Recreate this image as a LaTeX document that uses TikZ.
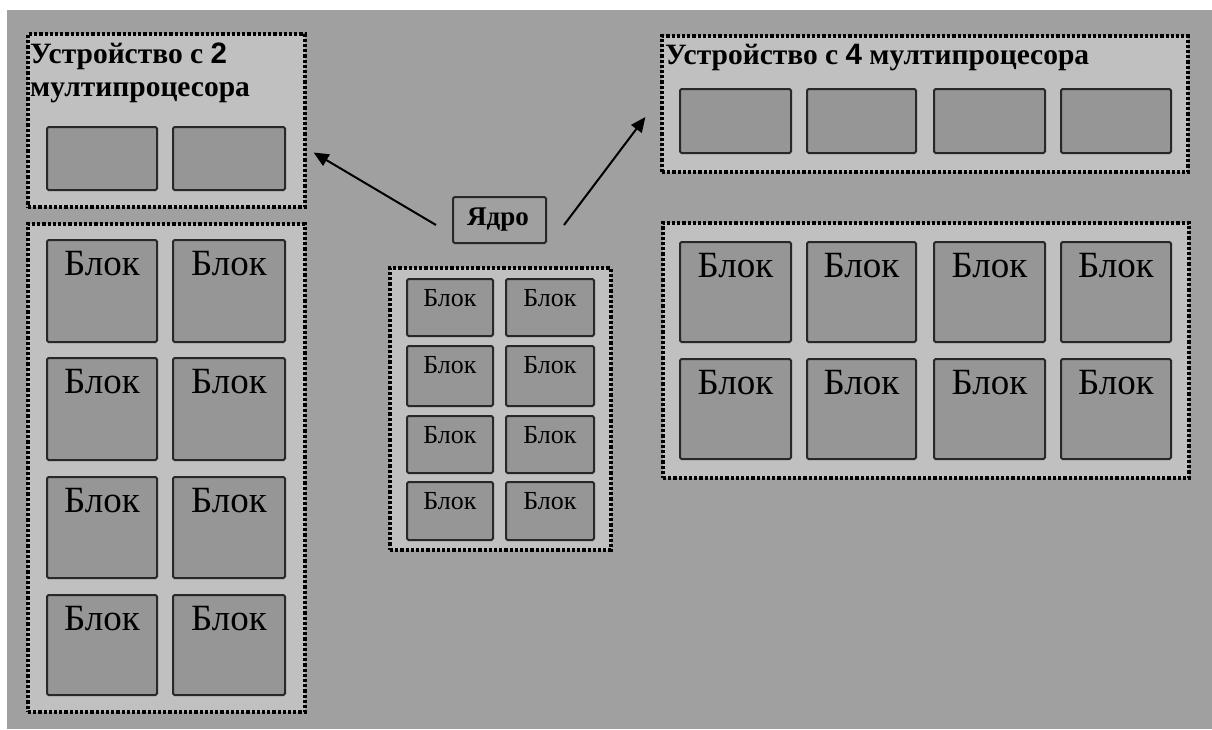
\documentclass[tikz,border=0pt]{standalone}
\usepackage{fontspec}
\setmainfont{Liberation Serif}
\newfontfamily\digitfont{Liberation Sans}
\usetikzlibrary{arrows.meta,fit,calc}
\definecolor{bggray}{RGB}{160,160,160}
\definecolor{boxgray}{RGB}{192,192,192}
\definecolor{blkgray}{RGB}{150,150,150}
\definecolor{edgegray}{RGB}{40,40,40}
\begin{document}
\begin{tikzpicture}[x=1pt,y=-1pt,
  container/.style={draw=black, fill=boxgray, line width=3.2pt, dash pattern=on 3.2pt off 2pt, inner sep=0pt},
  blockbox/.style={draw=edgegray, fill=blkgray, line width=2pt, rounded corners=1.5pt, inner sep=0pt},
  corebox/.style={draw=edgegray, fill=bggray, line width=2pt, rounded corners=1.5pt, inner sep=0pt},
  bigtxt/.style={font=\fontsize{37}{40}\selectfont, anchor=base, inner sep=0pt},
  smalltxt/.style={font=\fontsize{26}{28}\selectfont, anchor=base, inner sep=0pt},
  titletxt/.style={font=\bfseries\fontsize{29.5}{32}\selectfont, anchor=base west, inner sep=0pt},
  coretxt/.style={font=\bfseries\fontsize{27}{30}\selectfont, anchor=base, inner sep=0pt},
  arrowline/.style={-{Triangle[length=15pt,width=13pt]}, line width=2pt}]
\useasboundingbox (0,0) rectangle (1212,729);
\fill[white] (0,0) rectangle (1212,729);
\fill[bggray] (7,10) rectangle (1212,729);

% left: device with 2 multiprocessors
\node[container, fit={(28,34) (305,207)}] (dev2) {};
\node[titletxt] (t2a) at (30,63) {Устройство с {\digitfont\bfseries 2}};
\node[titletxt] (t2b) at (30,96) {мултипроцесора};
\foreach \x/\xx [count=\i] in {47/157,173/285}
  \node[blockbox, fit={(\x,127) (\xx,190)}] (p2\i) {};

\node[container, fit={(28,224) (305,712)}] (grid2) {};
\foreach \x/\xx [count=\i] in {47/157,173/285}
  \foreach \y/\yy [count=\j] in {240/342,358/460,477/578,595/695}{
    \node[blockbox, fit={(\x,\y) (\xx,\yy)}] (L\i\j) {};
    \node[bigtxt] (Lt\i\j) at ([yshift=-36pt]L\i\j.north) {Блок};
  }

% centre: core
\node[corebox, fit={(453,197) (546,243)}] (core) {};
\node[coretxt] (coret) at (498,225) {Ядро};
\node[container, fit={(390,268) (611,550)}] (gridc) {};
\foreach \x/\xx [count=\i] in {407/493,506/594}
  \foreach \y/\yy [count=\j] in {279/336,346/406,416/473,482/540}{
    \node[blockbox, fit={(\x,\y) (\xx,\yy)}] (C\i\j) {};
    \node[smalltxt] (Ct\i\j) at ([yshift=-28pt]C\i\j.north) {Блок};
  }

% right: device with 4 multiprocessors
\node[container, fit={(662,36) (1188,172)}] (dev4) {};
\node[titletxt] (t4) at (665,64) {Устройство с {\digitfont\bfseries 4} мултипроцесора};
\foreach \x/\xx [count=\i] in {680/791,807/916,934/1045,1061/1171}
  \node[blockbox, fit={(\x,89) (\xx,153)}] (p4\i) {};

\node[container, fit={(663,223) (1189,478)}] (grid4) {};
\foreach \x/\xx [count=\i] in {680/791,807/916,934/1045,1061/1171}
  \foreach \y/\yy [count=\j] in {242/342,359/459}{
    \node[blockbox, fit={(\x,\y) (\xx,\yy)}] (R\i\j) {};
    \node[bigtxt] (Rt\i\j) at ([yshift=-36pt]R\i\j.north) {Блок};
  }

% arrows
\coordinate (s1) at ([xshift=-16pt,yshift=-5pt]core.west);
\coordinate (e1) at ([xshift=7pt,yshift=-32pt]dev2.east);
\coordinate (s2) at ([xshift=17pt,yshift=-5pt]core.east);
\coordinate (e2) at ([xshift=-15pt,yshift=-13pt]dev4.west);
\draw[arrowline] (s1) -- (e1);
\draw[arrowline] (s2) -- (e2);
\end{tikzpicture}
\end{document}
